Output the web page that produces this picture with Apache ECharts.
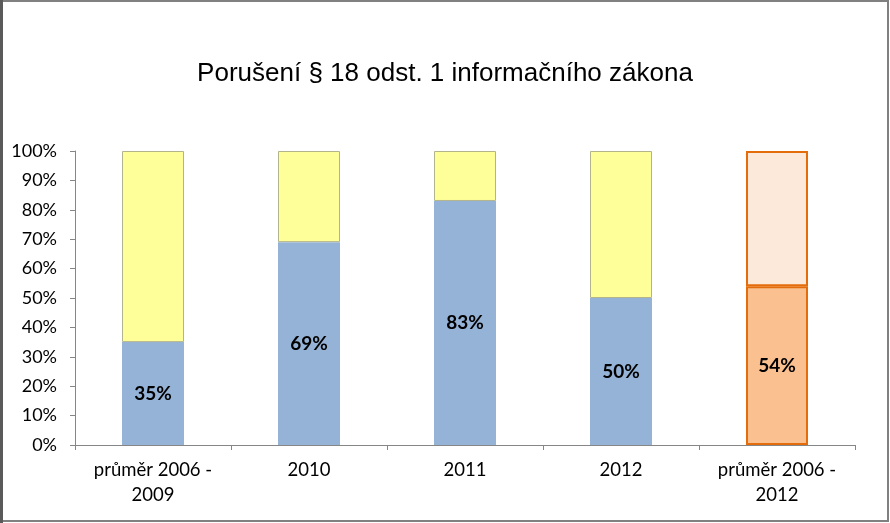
<!DOCTYPE html>
<html><head><meta charset="utf-8">
<script src="https://cdn.jsdelivr.net/npm/echarts@6/dist/echarts.min.js"></script>
<style>html,body{margin:0;padding:0;background:#fff}#c{width:890px;height:523px}</style>
</head><body><div id="c"></div>
<script>
const categories = ['průměr 2006 -\n2009', '2010', '2011', '2012', 'průměr 2006 -\n2012'];
const violated = [35, 69, 83, 50, 54];
const rest = [65, 31, 17, 50, 46];
const yTicks = [0, 10, 20, 30, 40, 50, 60, 70, 80, 90, 100];

const chart = echarts.init(document.getElementById('c'), null, {renderer: 'canvas'});
const lastIdx = categories.length - 1;
const bottomData = violated.map((v, i) => i === lastIdx
  ? {value: v, itemStyle: {color: '#FAC090', borderColor: '#E46C0A', borderWidth: 2}}
  : {value: v});
const topData = rest.map((v, i) => i === lastIdx
  ? {value: v, itemStyle: {color: '#FDE9D9', borderColor: '#E46C0A', borderWidth: 2}}
  : {value: v});

chart.setOption({
  animation: false,
  backgroundColor: '#fff',
  title: {
    text: 'Porušení § 18 odst. 1 informačního zákona',
    left: 'center', top: 56,
    textStyle: {fontFamily: 'Liberation Sans, Arial, sans-serif', fontSize: 26, fontWeight: 'normal', color: '#000'}
  },
  grid: {left: 75, right: 35, top: 151, bottom: 78, containLabel: false},
  xAxis: {
    type: 'category', data: categories,
    axisLine: {lineStyle: {color: '#868686', width: 1}},
    axisTick: {show: true, length: 5, lineStyle: {color: '#868686'}},
    axisLabel: {fontFamily: 'Lato, Open Sans, sans-serif', fontSize: 18.5, color: '#000', margin: 13, lineHeight: 25}
  },
  yAxis: {
    type: 'value', min: 0, max: 100, interval: 10,
    axisLine: {show: true, lineStyle: {color: '#868686', width: 1}},
    axisTick: {show: true, length: 5, lineStyle: {color: '#868686'}},
    splitLine: {show: false},
    axisLabel: {formatter: v => yTicks.includes(v) ? v + '%' : '', fontFamily: 'Lato, Open Sans, sans-serif', fontSize: 18, color: '#000', margin: 18}
  },
  series: [
    {
      type: 'bar', stack: 'a', data: bottomData, barWidth: 62,
      itemStyle: {color: '#95B3D7'},
      label: {show: true, position: 'inside', formatter: '{c}%', fontFamily: 'Lato, Open Sans, sans-serif', fontWeight: 'bold', fontSize: 19, color: '#000'}
    },
    {
      type: 'bar', stack: 'a', data: topData, barWidth: 62,
      itemStyle: {color: '#FFFF99', borderColor: '#B4B48C', borderWidth: 1}
    }
  ],
  graphic: [
    {type: 'rect', shape: {x: 1, y: 1, width: 887, height: 520}, style: {fill: 'none', stroke: '#808080', lineWidth: 2}, z: 100},
    {type: 'rect', shape: {x: 0, y: 0, width: 3, height: 523}, style: {fill: '#5a5a5a'}, z: 101}
  ]
});
</script></body></html>
